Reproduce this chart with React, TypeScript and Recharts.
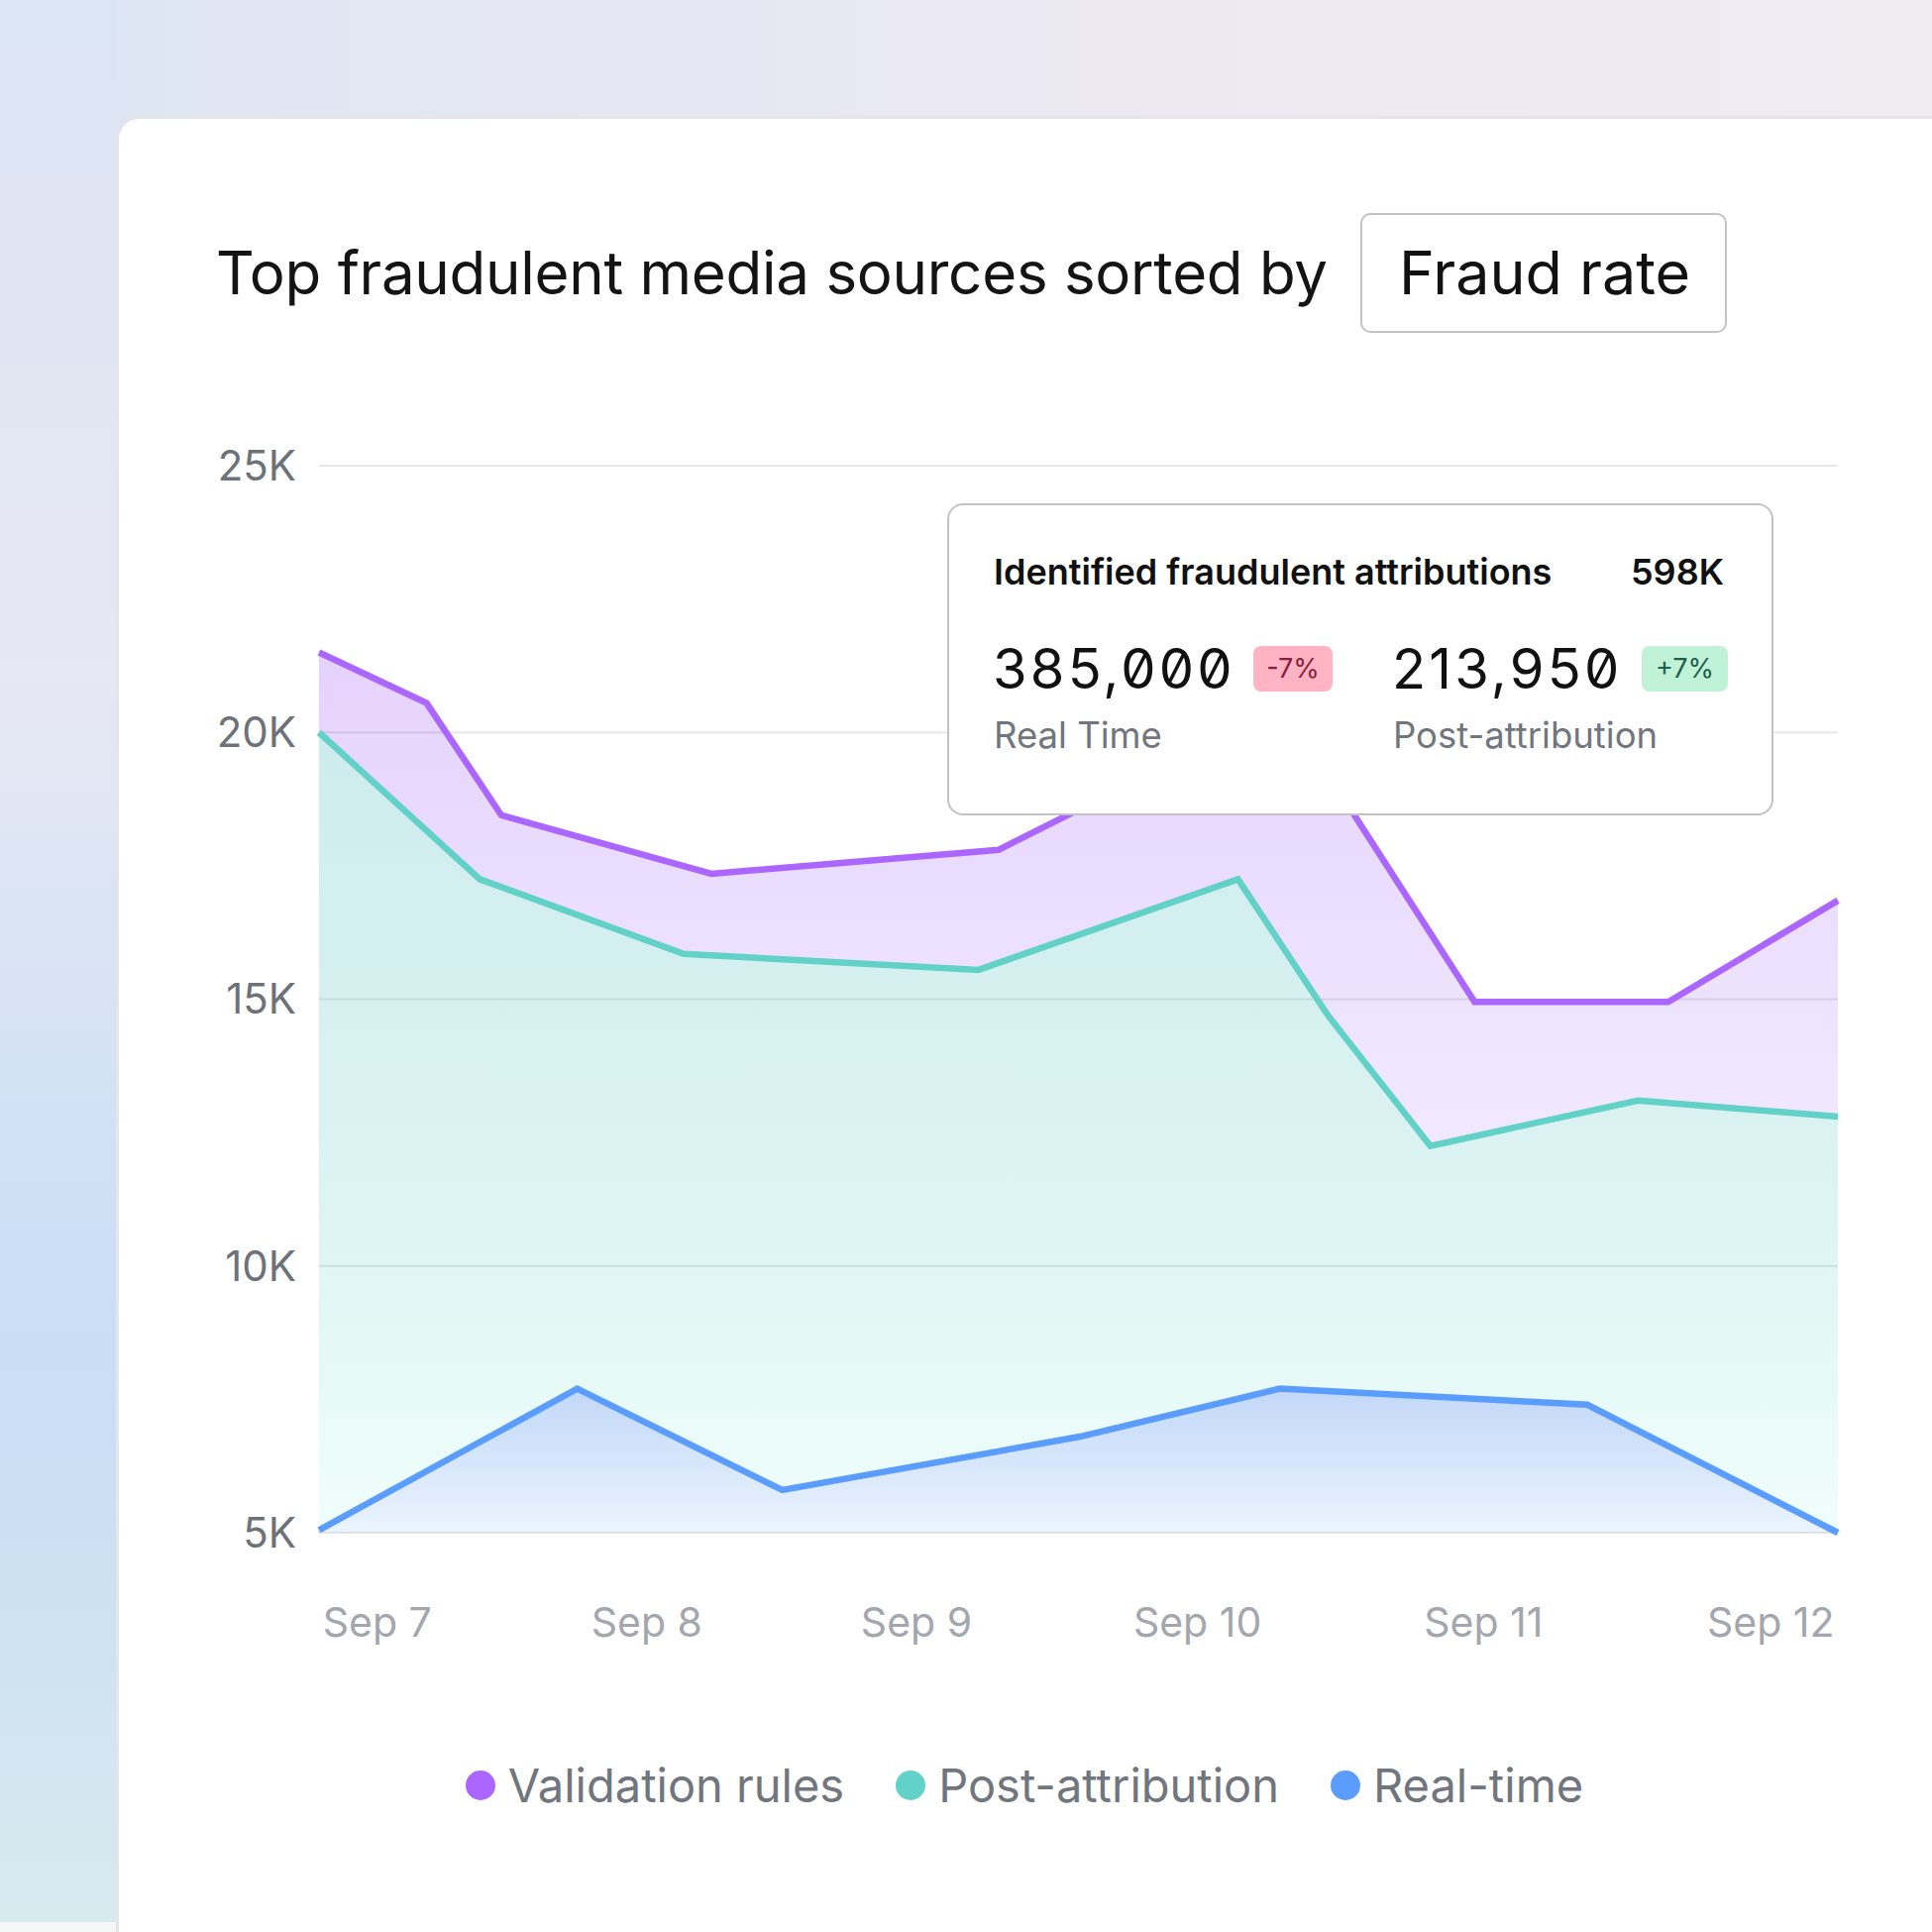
import { Area, AreaChart, CartesianGrid, Legend, Line, XAxis, YAxis } from "recharts";

// hours since Sep 7 00:00, values in attributions
const validationHours = [0, 8.5, 14.4, 31.0, 53.7, 62.9, 78.0, 91.3, 106.6, 120];
const validationValues = [21500, 20550, 18450, 17350, 17800, 18900, 19850, 14950, 14950, 16850];

const postHours = [0, 12.7, 28.8, 52.1, 72.6, 79.7, 87.8, 104.2, 120];
const postValues = [20000, 17250, 15850, 15550, 17250, 14700, 12250, 13100, 12800];

const realtimeHours = [0, 20.4, 36.6, 60.1, 75.9, 100.2, 120];
const realtimeValues = [5050, 7700, 5800, 6800, 7700, 7400, 5000];

const dayLabels = ["Sep 7", "Sep 8", "Sep 9", "Sep 10", "Sep 11", "Sep 12"];
const dayTickHours = [4.6, 25.9, 47.2, 69.4, 92.0, 114.7];
const yTicks = [5000, 10000, 15000, 20000, 25000];

const series = [
  { key: "validation", name: "Validation rules", color: "#ab66ff" },
  { key: "post", name: "Post-attribution", color: "#62d1c8" },
  { key: "realtime", name: "Real-time", color: "#5a9dff" },
];

const rows = new Map<number, any>();
const add = (hours: number[], values: number[], key: string) =>
  hours.forEach((h, i) => {
    const r = rows.get(h) ?? { t: h };
    r[key] = values[i];
    rows.set(h, r);
  });
add(validationHours, validationValues, "validation");
add(postHours, postValues, "post");
add(realtimeHours, realtimeValues, "realtime");
const data = [...rows.values()].sort((a, b) => a.t - b.t);

const LegendContent = () => (
  <div style={{ display: "flex", justifyContent: "center", alignItems: "center", height: 60 }}>
    {series.map((s, i) => (
      <div key={s.key} style={{ display: "flex", alignItems: "center", marginLeft: i ? 52 : 0 }}>
        <span style={{ width: 30, height: 30, borderRadius: 15, background: s.color, marginRight: 13 }} />
        <span style={{ fontSize: 47, color: "#71767e", lineHeight: "60px" }}>{s.name}</span>
      </div>
    ))}
  </div>
);

const abs = (left: number, top: number, extra: any = {}) => ({ position: "absolute" as const, left, top, ...extra });

const bigNumber = {
  fontSize: 56,
  lineHeight: "56px",
  color: "#111",
  fontFeatureSettings: '"zero" 1',
  letterSpacing: 3.2,
};

export default function App() {
  return (
    <div
      style={{
        position: "absolute",
        left: 0,
        top: 0,
        width: 1950,
        height: 1950,
        overflow: "hidden",
        fontFamily: "Inter, sans-serif",
        background: "linear-gradient(to right, #dce5f4 0%, #e5e7f3 30%, #ece9f2 60%, #efebf1 100%)",
      }}
    >
      <div
        style={abs(0, 0, {
          width: 118,
          height: 1950,
          background:
            "linear-gradient(to bottom, #dce5f4 0%, #e0e5f3 15%, #e6e8f3 35%, #d4e2f5 55%, #c9ddf4 70%, #cfe2f2 85%, #d9eaee 100%)",
        })}
      />
      <div style={abs(0, 1940, { width: 118, height: 10, background: "#f6f6f7" })} />
      <div
        style={abs(117, 117, {
          width: 1900,
          height: 1900,
          background: "#fff",
          border: "3px solid #e5e5e7",
          borderTopLeftRadius: 24,
          boxSizing: "border-box",
        })}
      />

      <div
        style={abs(218, 245, {
          fontSize: 60,
          lineHeight: "60px",
          letterSpacing: -0.25,
          color: "#141414",
          whiteSpace: "nowrap",
        })}
      >
        Top fraudulent media sources sorted by
      </div>
      <div
        style={abs(1373, 215, {
          width: 370,
          height: 121,
          border: "2px solid #c3c3c3",
          borderRadius: 10,
          boxSizing: "border-box",
        })}
      />
      <div style={abs(1412, 245, { fontSize: 61, lineHeight: "61px", color: "#111", whiteSpace: "nowrap" })}>
        Fraud rate
      </div>

      <div style={abs(0, 0)}>
        <AreaChart width={1950} height={1832} data={data} margin={{ top: 470, right: 95, bottom: 0, left: 222 }}>
          <defs>
            <linearGradient id="gValidation" x1="0" y1="0" x2="0" y2="1">
              <stop offset="0%" stopColor="#e5d2fd" />
              <stop offset="50%" stopColor="#f0e7ff" />
              <stop offset="100%" stopColor="#f8f4ff" />
            </linearGradient>
            <linearGradient id="gPost" x1="0" y1="0" x2="0" y2="1">
              <stop offset="0%" stopColor="#ceeced" />
              <stop offset="60%" stopColor="#ddf4f3" />
              <stop offset="100%" stopColor="#f0fefb" />
            </linearGradient>
            <linearGradient id="gReal" x1="0" y1="0" x2="0" y2="1">
              <stop offset="0%" stopColor="#c2d8f8" />
              <stop offset="100%" stopColor="#ebf4fe" />
            </linearGradient>
          </defs>
          <XAxis
            type="number"
            dataKey="t"
            domain={[0, 120]}
            ticks={dayTickHours}
            interval={0}
            tickFormatter={(v: number) => dayLabels[dayTickHours.indexOf(v)]}
            axisLine={false}
            tickLine={false}
            height={225}
            tickMargin={70}
            tick={{ fill: "#a3a7ad", fontSize: 41 }}
          />
          <YAxis
            domain={[5000, 25000]}
            ticks={yTicks}
            tickFormatter={(v: number) => `${v / 1000}K`}
            axisLine={false}
            tickLine={false}
            width={100}
            tickMargin={17}
            tick={{ fill: "#6d7279", fontSize: 42 }}
          />
          <Area
            type="linear"
            dataKey="validation"
            stroke="none"
            fill="url(#gValidation)"
            fillOpacity={1}
            connectNulls
            isAnimationActive={false}
            legendType="none"
            zIndex={100}
          />
          <Area
            type="linear"
            dataKey="post"
            stroke="none"
            fill="url(#gPost)"
            fillOpacity={1}
            connectNulls
            isAnimationActive={false}
            legendType="none"
            zIndex={101}
          />
          <Area
            type="linear"
            dataKey="realtime"
            stroke="none"
            fill="url(#gReal)"
            fillOpacity={1}
            connectNulls
            isAnimationActive={false}
            legendType="none"
            zIndex={102}
          />
          <CartesianGrid vertical={false} stroke="rgba(0,0,0,0.09)" strokeWidth={2} zIndex={200} />
          {series.map((s) => (
            <Line
              key={s.key}
              type="linear"
              dataKey={s.key}
              name={s.name}
              stroke={s.color}
              strokeWidth={6.5}
              dot={false}
              activeDot={false}
              connectNulls
              isAnimationActive={false}
              zIndex={400}
            />
          ))}
          <Legend verticalAlign="bottom" content={LegendContent} wrapperStyle={{ left: 116, width: 1836, height: 60 }} />
        </AreaChart>
      </div>

      <div
        style={abs(956, 508, {
          width: 834,
          height: 315,
          background: "#fff",
          border: "2px solid #c2c2c2",
          borderRadius: 16,
          boxSizing: "border-box",
        })}
      />
      <div style={abs(1003, 559, { fontSize: 36, lineHeight: "36px", fontWeight: 600, color: "#111", whiteSpace: "nowrap" })}>
        Identified fraudulent attributions
      </div>
      <div style={abs(1640, 559, { width: 100, textAlign: "right", fontSize: 36, lineHeight: "36px", fontWeight: 600, color: "#111" })}>
        598K
      </div>
      <div style={abs(1002, 647, bigNumber)}>385,000</div>
      <div
        style={abs(1265, 652, {
          width: 80,
          height: 46,
          borderRadius: 8,
          background: "#ffb3c3",
          color: "#8a1c3c",
          fontSize: 27,
          lineHeight: "46px",
          textAlign: "center",
        })}
      >
        -7%
      </div>
      <div style={abs(1405, 647, bigNumber)}>213,950</div>
      <div
        style={abs(1657, 652, {
          width: 87,
          height: 46,
          borderRadius: 8,
          background: "#c0f2d7",
          color: "#1f5e4c",
          fontSize: 27,
          lineHeight: "46px",
          textAlign: "center",
        })}
      >
        +7%
      </div>
      <div style={abs(1003, 724, { fontSize: 36.5, lineHeight: "36.5px", color: "#71767e", whiteSpace: "nowrap" })}>
        Real Time
      </div>
      <div style={abs(1406, 724, { fontSize: 36.5, lineHeight: "36.5px", color: "#71767e", whiteSpace: "nowrap" })}>
        Post-attribution
      </div>
    </div>
  );
}
